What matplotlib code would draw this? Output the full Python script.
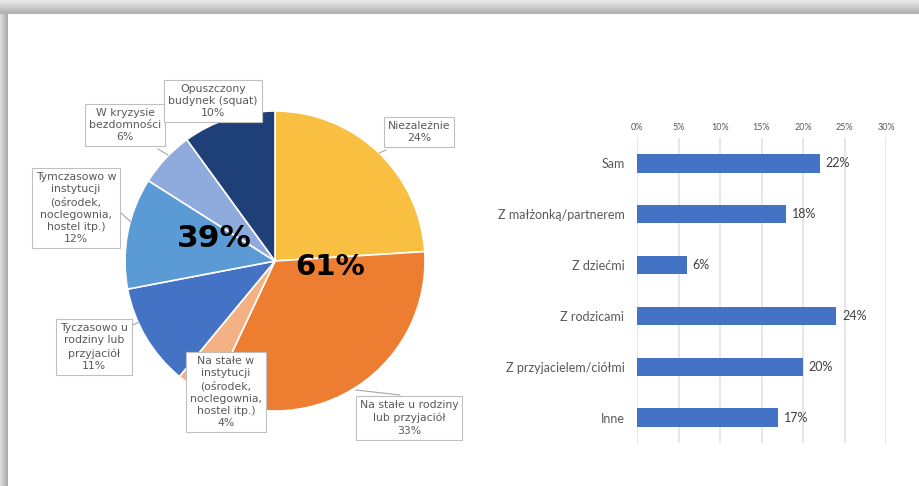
import numpy as np
import matplotlib.pyplot as plt

W, H = 919, 486

# pie data (clockwise from top)
pie_labels = ['Niezależnie', 'Na stałe u rodziny\nlub przyjaciół',
              'Na stałe w\ninstytucji\n(ośrodek,\nnoclegownia,\nhostel itp.)',
              'Tyczasowo u\nrodziny lub\nprzyjaciół',
              'Tymczasowo w\ninstytucji\n(ośrodek,\nnoclegownia,\nhostel itp.)',
              'W kryzysie\nbezdomności', 'Opuszczony\nbudynek (squat)']
pie_values = [24, 33, 4, 11, 12, 6, 10]
pie_colors = ['#F8BF40', '#ED7D31', '#F4B183', '#4472C4', '#5B9BD5', '#8FAADC', '#1F3F78']
group_labels = ['61%', '39%']

# bar data
bar_labels = ['Sam', 'Z małżonką/partnerem', 'Z dziećmi', 'Z rodzicami',
              'Z przyjacielem/ciółmi', 'Inne']
bar_values = [22, 18, 6, 24, 20, 17]
x_ticks = [0, 5, 10, 15, 20, 25, 30]

fig = plt.figure(figsize=(W / 100, H / 100), dpi=100)
fig.patch.set_facecolor('white')


def px_box(x0, y0, x1, y1):
    # pixel box (top-left origin) -> figure fraction rect
    return [x0 / W, 1 - y1 / H, (x1 - x0) / W, (y1 - y0) / H]


# gray frame bands of the screenshot
top = fig.add_axes(px_box(0, 0, W, 14))
top.imshow(np.linspace(0.92, 0.68, 50).reshape(-1, 1), cmap='gray', vmin=0, vmax=1,
           aspect='auto', extent=[0, 1, 0, 1])
top.axis('off')
left = fig.add_axes(px_box(0, 14, 8, H))
left.imshow(np.linspace(0.88, 0.66, 50).reshape(1, -1), cmap='gray', vmin=0, vmax=1,
            aspect='auto', extent=[0, 1, 0, 1])
left.axis('off')

# ---- pie ----
cx, cy, r = 275, 261, 150
ax = fig.add_axes(px_box(cx - r, cy - r, cx + r, cy + r))
ax.pie(pie_values, colors=pie_colors, startangle=90, counterclock=False,
       radius=1, wedgeprops=dict(edgecolor='white', linewidth=1.2))
ax.set_xlim(-1, 1)
ax.set_ylim(-1, 1)
ax.set_aspect('equal')
ax.axis('off')


def d(px, py):
    return (px - cx) / r, (cy - py) / r


label_pos = [(419, 132), (409, 418), (226, 392), (94, 347), (76, 208), (125, 125), (213, 101)]
leaders = [[(386, 150), (379, 153)],
           [(356, 390), (400, 395)],
           None,
           [(133, 325), (139, 322)],
           [(121, 213), (131, 222)],
           [(158, 149), (168, 155)],
           None]
for lab, v, pos, ld in zip(pie_labels, pie_values, label_pos, leaders):
    if ld is not None:
        (x0, y0), (x1, y1) = d(*ld[0]), d(*ld[1])
        ax.plot([x0, x1], [y0, y1], color='#A6A6A6', lw=0.8, clip_on=False, zorder=4)
    tx, ty = d(*pos)
    ax.text(tx, ty, f'{lab}\n{v}%', ha='center', va='center', fontsize=7.8,
            color='#595959', linespacing=1.3, zorder=5, clip_on=False,
            bbox=dict(boxstyle='square,pad=0.35', fc='white', ec='#BFBFBF', lw=0.8))

tx, ty = d(330, 267)
ax.text(tx, ty, group_labels[0], ha='center', va='center', fontsize=21,
        fontweight='bold', color='black', zorder=6)
tx, ty = d(214, 238)
ax.text(tx, ty, group_labels[1], ha='center', va='center', fontsize=22.5,
        fontweight='bold', color='black', zorder=6)

# ---- bars ----
bfont = 'Lato'
bx = fig.add_axes(px_box(637, 138, 886, 443))
ypos = np.arange(len(bar_labels))
bx.barh(ypos, bar_values, height=0.36, color='#4472C4', zorder=3)
bx.set_xlim(0, 30)
bx.set_ylim(len(bar_labels) - 0.5, -0.5)
bx.set_xticks(x_ticks)
bx.set_xticklabels([f'{t}%' for t in x_ticks], fontsize=6.5, color='#595959', family=bfont)
bx.xaxis.tick_top()
bx.tick_params(axis='x', length=0, pad=4)
bx.set_yticks(ypos)
bx.set_yticklabels(bar_labels, fontsize=9, color='#595959', family=bfont)
bx.tick_params(axis='y', length=0, pad=9)
bx.grid(axis='x', color='#E3E3E3', lw=1.2, zorder=0)
for s in bx.spines.values():
    s.set_visible(False)
for y, v in zip(ypos, bar_values):
    bx.text(v + 0.7, y, f'{v}%', va='center', ha='left', fontsize=9, color='#404040',
            family=bfont)

fig.savefig('out.png', dpi=100, facecolor='white')
